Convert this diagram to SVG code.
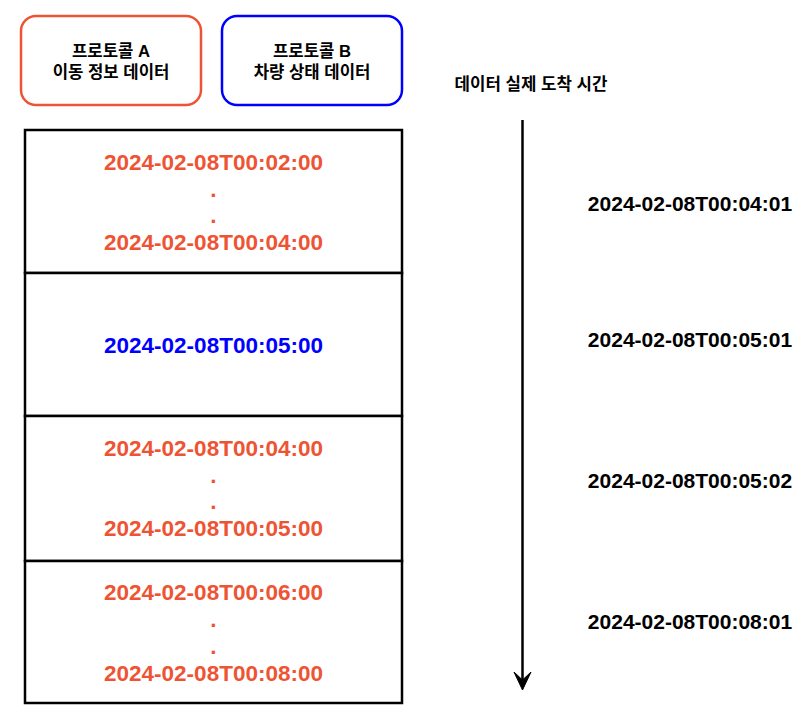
<svg xmlns="http://www.w3.org/2000/svg" width="808" height="708" viewBox="0 0 808 708">
<defs>
<style>
.t{font-family:"Liberation Sans","Noto Sans CJK KR",Arial,sans-serif;font-weight:bold;text-anchor:middle}
.hd{font-size:16.7px;fill:#000}
.ax{font-size:16.8px;fill:#000}
.dt{font-size:22.5px}
.o{fill:#EE5433}
.b{fill:#0000FF}
.rt{font-size:21px;fill:#000}
.cell{fill:#fff;stroke:#000;stroke-width:2.5}
</style>
</defs>
<rect width="808" height="708" fill="#fff"/>
<g id="protoA">
<rect x="21" y="16" width="180" height="89" rx="15" fill="#fff" stroke="#EE5433" stroke-width="2.5"/>
<text class="t hd" x="111" y="57">프로토콜 A</text>
<text class="t hd" x="111" y="78">이동 정보 데이터</text>
</g>
<g id="protoB">
<rect x="222" y="16" width="180" height="89" rx="15" fill="#fff" stroke="#0000FF" stroke-width="2.5"/>
<text class="t hd" x="312" y="57">프로토콜 B</text>
<text class="t hd" x="312" y="78">차량 상태 데이터</text>
</g>
<g id="axisLabel">
<text class="t ax" x="531" y="90">데이터 실제 도착 시간</text>
</g>
<g id="row1">
<rect class="cell" x="25" y="130" width="377" height="143"/>
<text class="t dt o" x="213.5" y="170">2024-02-08T00:02:00</text>
<text class="t dt o" x="213.5" y="197">.</text>
<text class="t dt o" x="213.5" y="223">.</text>
<text class="t dt o" x="213.5" y="250">2024-02-08T00:04:00</text>
</g>
<g id="row2">
<rect class="cell" x="25" y="273" width="377" height="143"/>
<text class="t dt b" x="213.5" y="353">2024-02-08T00:05:00</text>
</g>
<g id="row3">
<rect class="cell" x="25" y="416" width="377" height="145"/>
<text class="t dt o" x="213.5" y="456">2024-02-08T00:04:00</text>
<text class="t dt o" x="213.5" y="483">.</text>
<text class="t dt o" x="213.5" y="509">.</text>
<text class="t dt o" x="213.5" y="536">2024-02-08T00:05:00</text>
</g>
<g id="row4">
<rect class="cell" x="25" y="561" width="377" height="142"/>
<text class="t dt o" x="213.5" y="600">2024-02-08T00:06:00</text>
<text class="t dt o" x="213.5" y="627">.</text>
<text class="t dt o" x="213.5" y="654">.</text>
<text class="t dt o" x="213.5" y="681">2024-02-08T00:08:00</text>
</g>
<g id="arrivals">
<text class="t rt" x="690" y="211">2024-02-08T00:04:01</text>
<text class="t rt" x="690" y="347">2024-02-08T00:05:01</text>
<text class="t rt" x="690" y="488">2024-02-08T00:05:02</text>
<text class="t rt" x="690" y="629">2024-02-08T00:08:01</text>
</g>
<g id="connectors">
<line x1="522.5" y1="120" x2="522.5" y2="684" stroke="#000" stroke-width="2.5"/>
<path d="M514,672 L522.5,690 L531,672 L522.5,680 Z" fill="#000" stroke="#000" stroke-width="1"/>
</g>
</svg>
